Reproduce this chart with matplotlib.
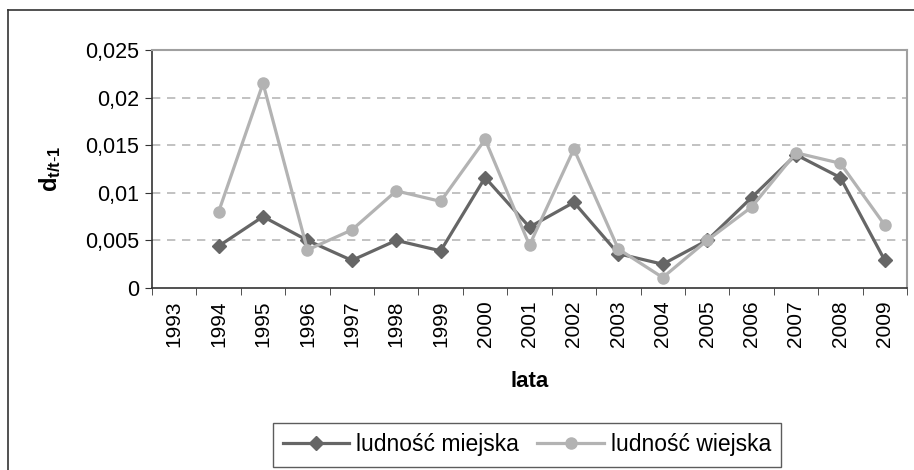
import numpy as np
import matplotlib
matplotlib.use('Agg')
import matplotlib.pyplot as plt
from matplotlib.lines import Line2D

plt.rcParams['font.family'] = ['Liberation Sans', 'DejaVu Sans']
plt.rcParams['mathtext.fontset'] = 'custom'
plt.rcParams['mathtext.rm'] = 'Liberation Sans'
plt.rcParams['mathtext.bf'] = 'Liberation Sans:bold'
plt.rcParams['mathtext.it'] = 'Liberation Sans:italic'

# dane
lata = [str(r) for r in range(1993, 2010)]
miejska = [np.nan, 0.0044, 0.0075, 0.0050, 0.0029, 0.0050, 0.0039, 0.0116, 0.0064,
           0.0090, 0.0036, 0.0025, 0.0050, 0.0095, 0.0140, 0.0116, 0.0029]
wiejska = [np.nan, 0.0080, 0.0215, 0.0040, 0.0061, 0.0102, 0.0091, 0.0156, 0.0045,
           0.0146, 0.0041, 0.0011, 0.0050, 0.0085, 0.0142, 0.0131, 0.0066]
y_ticks = [0, 0.005, 0.01, 0.015, 0.02, 0.025]
y_labels = ['0', '0,005', '0,01', '0,015', '0,02', '0,025']

fig = plt.figure(figsize=(9.14, 4.70), dpi=100)
ax = fig.add_axes([152/914, 1 - 288/470, (907 - 152)/914, (288 - 50)/470])

x = np.arange(len(lata))
ax.plot(x, miejska, color='#666666', lw=2.3, marker='D', ms=7.5, label='ludność miejska', zorder=3)
ax.plot(x, wiejska, color='#b3b3b3', lw=2.3, marker='o', ms=8, label='ludność wiejska', zorder=4)

ax.set_xlim(-0.5, len(lata) - 0.5)
ax.set_ylim(0, 0.025)
ax.set_yticks(y_ticks)
ax.set_yticklabels(y_labels, fontsize=15.5)
ax.set_xticks(x)
ax.set_xticklabels(lata, rotation=90, fontsize=15)
ax.set_xticks(np.arange(-0.5, len(lata)), minor=True)
ax.tick_params(axis='x', which='major', length=0, pad=9)
ax.tick_params(axis='x', which='minor', length=5, color='#333333', direction='out')
ax.tick_params(axis='y', length=5, color='#333333', direction='out', pad=4)

for yv in y_ticks[1:-1]:
    ax.axhline(yv, color='#b8b8b8', lw=1.2, ls=(0, (5, 4)), zorder=1)

for s in ['top', 'right']:
    ax.spines[s].set_color('#a0a0a0')
    ax.spines[s].set_linewidth(1.5)
for s in ['left', 'bottom']:
    ax.spines[s].set_color('#333333')
    ax.spines[s].set_linewidth(1.2)

ax.set_xlabel('lata', fontsize=16, fontweight='bold')
ax.xaxis.set_label_coords(0.5, (288 - 371)/238)
ax.set_ylabel(r'$\mathbf{d_{t/t\text{-}1}}$', fontsize=17)
ax.yaxis.set_label_coords((63 - 152)/755, 0.5)

# ramka wykresu
fig.add_artist(Line2D([8/914, 8/914], [0, 1 - 10/470], color='#333333', lw=1.2))
fig.add_artist(Line2D([8/914, 1], [1 - 10/470, 1 - 10/470], color='#333333', lw=1.2))

leg = fig.legend(loc='center', bbox_to_anchor=(527/914, 1 - 445/470), ncol=2,
                 fontsize=16.5, frameon=True, fancybox=False, edgecolor='#333333',
                 handlelength=2.9, handletextpad=0.3, columnspacing=0.8,
                 borderpad=0.45)
leg.get_frame().set_linewidth(1.0)

fig.savefig('out.png', dpi=100)
